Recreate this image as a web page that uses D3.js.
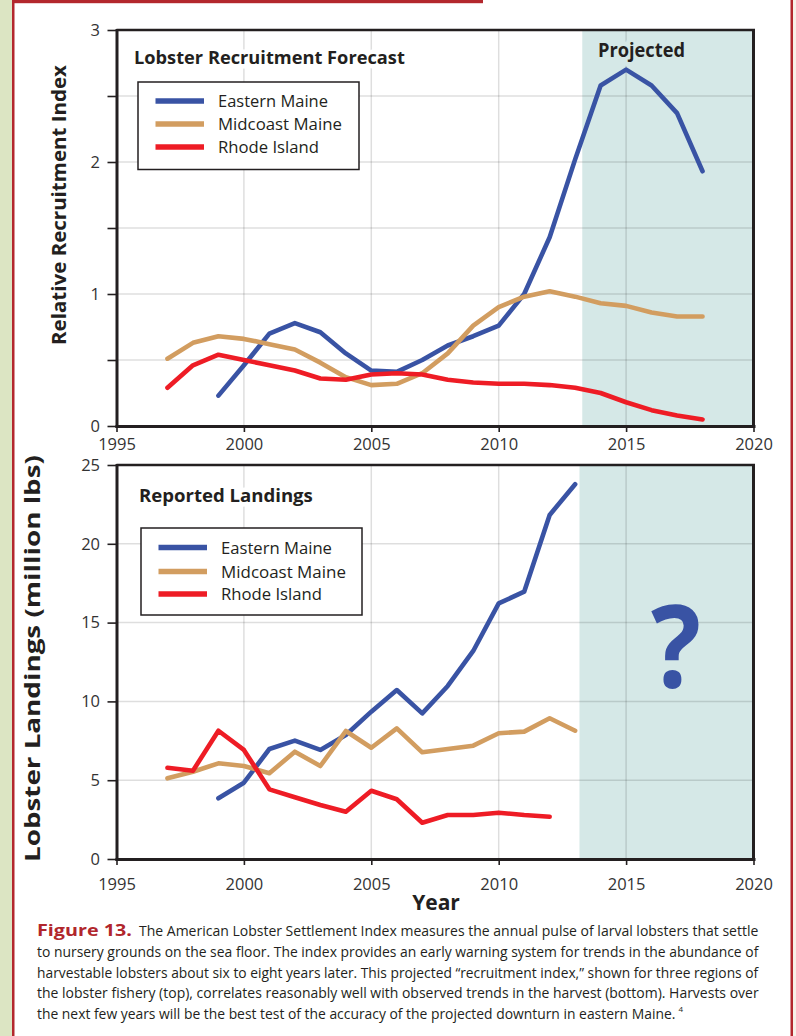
<!DOCTYPE html>
<html><head><meta charset="utf-8">
<script src="https://cdn.jsdelivr.net/npm/d3@7"></script>
<style>
html,body{margin:0;padding:0;background:#fff;}
svg{display:block;}
</style></head>
<body>
<svg id="chart" width="796" height="1036"></svg>
<script>
// ---------- DATA ----------
const seriesNames = ["Eastern Maine", "Midcoast Maine", "Rhode Island"];
const seriesColors = ["#3953a4", "#d29d60", "#ee1c25"];

const xTickYears = [1995, 2000, 2005, 2010, 2015, 2020];

// Top panel: relative recruitment index
const recruitYearsEastern = [1999,2000,2001,2002,2003,2004,2005,2006,2007,2008,2009,2010,2011,2012,2013,2014,2015,2016,2017,2018];
const recruitEastern = [0.23,0.46,0.70,0.78,0.71,0.55,0.42,0.41,0.50,0.61,0.68,0.76,1.00,1.43,2.02,2.58,2.70,2.58,2.37,1.93];
const recruitYears = [1997,1998,1999,2000,2001,2002,2003,2004,2005,2006,2007,2008,2009,2010,2011,2012,2013,2014,2015,2016,2017,2018];
const recruitMidcoast = [0.51,0.63,0.68,0.66,0.62,0.58,0.48,0.37,0.31,0.32,0.40,0.55,0.76,0.90,0.98,1.02,0.98,0.93,0.91,0.86,0.83,0.83];
const recruitRhode = [0.29,0.46,0.54,0.50,0.46,0.42,0.36,0.35,0.39,0.40,0.39,0.35,0.33,0.32,0.32,0.31,0.29,0.25,0.18,0.12,0.08,0.05];
const recruitYTicks = [0, 0.5, 1, 1.5, 2, 2.5, 3];
const recruitProjectedStart = 2013.28;

// Bottom panel: reported landings (million lbs)
const landYearsEastern = [1999,2000,2001,2002,2003,2004,2005,2006,2007,2008,2009,2010,2011,2012,2013];
const landEastern = [3.85,4.84,6.98,7.51,6.92,7.87,9.35,10.72,9.24,10.98,13.2,16.22,16.96,21.83,23.78];
const landYearsMidcoast = [1997,1998,1999,2000,2001,2002,2003,2004,2005,2006,2007,2008,2009,2010,2011,2012,2013];
const landMidcoast = [5.12,5.54,6.07,5.90,5.44,6.81,5.90,8.12,7.06,8.29,6.77,6.98,7.19,7.98,8.08,8.93,8.14];
const landYearsRhode = [1997,1998,1999,2000,2001,2002,2003,2004,2005,2006,2007,2008,2009,2010,2011,2012];
const landRhode = [5.79,5.60,8.14,6.92,4.42,3.92,3.43,3.00,4.33,3.79,2.30,2.79,2.79,2.94,2.79,2.68];
const landYTicks = [0, 5, 10, 15, 20, 25];
const landProjectedStart = 2013.17;

const captionFirst = "The American Lobster Settlement Index measures the annual pulse of larval lobsters that settle";
const captionLines = [
  "to nursery grounds on the sea floor. The index provides an early warning system for trends in the abundance of",
  "harvestable lobsters about six to eight years later. This projected \u201crecruitment index,\u201d shown for three regions of",
  "the lobster fishery (top), correlates reasonably well with observed trends in the harvest (bottom). Harvests over",
  "the next few years will be the best test of the accuracy of the projected downturn in eastern Maine."
];

// ---------- DRAW ----------
const svg = d3.select("#chart");
const FONT = "'Open Sans', 'Noto Sans', sans-serif";
const INK = "#231f20";

// squeeze a text horizontally to a target width (keeps it real text, bbox correct)
function fitText(sel, x, y, target) {
  sel.attr("x", 0).attr("y", 0);
  const w = sel.node().getComputedTextLength();
  sel.attr("transform", `translate(${x},${y}) scale(${target / w},1)`);
  return sel;
}

// page decoration
svg.append("rect").attr("x",0).attr("y",0).attr("width",12).attr("height",1036).attr("fill","#dce5c3");
svg.append("rect").attr("x",12).attr("y",0).attr("width",2.5).attr("height",1036).attr("fill","#b3272d");
svg.append("rect").attr("x",12).attr("y",0).attr("width",471).attr("height",3.2).attr("fill","#b3272d");
svg.append("rect").attr("x",790.5).attr("y",0).attr("width",2.5).attr("height",1036).attr("fill","#b3272d");
svg.append("rect").attr("x",793).attr("y",0).attr("width",3).attr("height",1036).attr("fill","#f6f2e8");

function drawPanel(cfg) {
  const g = svg.append("g");
  const x = d3.scaleLinear().domain([1995, 2020]).range([116.5, 753.5]);
  const y = d3.scaleLinear().domain(cfg.yDomain).range(cfg.yRange);
  const top = y(cfg.yDomain[1]), bottom = y(cfg.yDomain[0]);

  // projected shading
  g.append("rect")
    .attr("x", x(cfg.projStart)).attr("y", top)
    .attr("width", x(2020) - x(cfg.projStart)).attr("height", bottom - top)
    .attr("fill", "#d5e8e7");

  // grid
  const grid = g.append("g").attr("stroke", "#000").attr("stroke-opacity", 0.13).attr("stroke-width", 1.5);
  grid.selectAll("line.h").data(cfg.yTicks.filter(v => v > cfg.yDomain[0] && v < cfg.yDomain[1]))
    .join("line").attr("class","h")
    .attr("x1", x(1995)).attr("x2", x(2020)).attr("y1", d => y(d)).attr("y2", d => y(d));
  grid.selectAll("line.v").data(xTickYears.filter(v => v > 1995 && v < 2020))
    .join("line").attr("class","v")
    .attr("y1", top).attr("y2", bottom).attr("x1", d => x(d)).attr("x2", d => x(d));

  // panel title with halo
  fitText(g.append("text")
    .attr("font-family", FONT).attr("font-weight", 700).attr("font-size", 18.5)
    .attr("fill", INK).attr("stroke", "#fff").attr("stroke-width", 9).attr("paint-order", "stroke")
    .text(cfg.title.text), cfg.title.x, cfg.title.y, cfg.title.len);

  if (cfg.extra) cfg.extra(g, x, y);

  // axes
  const ya = g.append("g").attr("transform", `translate(${x(1995)},0)`)
    .call(d3.axisLeft(y).tickValues(cfg.yTicks).tickSize(9).tickSizeOuter(0).tickPadding(7.5)
      .tickFormat(d => Number.isInteger(d) ? d : ""));
  const xa = g.append("g").attr("transform", `translate(0,${bottom})`)
    .call(d3.axisBottom(x).tickValues(xTickYears).tickSize(6).tickSizeOuter(0).tickFormat(d3.format("d")));
  [ya, xa].forEach(a => {
    a.select(".domain").attr("stroke", INK).attr("stroke-width", 3).attr("stroke-linecap", "square");
    a.selectAll(".tick line").attr("stroke", INK).attr("stroke-width", 1.6);
    a.selectAll("text").attr("font-family", FONT).attr("font-size", 16.5).attr("fill", "#333");
  });
  xa.selectAll("text").attr("dy", 0).attr("y", cfg.xLabelY);

  // frame top & right
  g.append("line").attr("x1", x(1995)).attr("x2", x(2020) + 1.5).attr("y1", top).attr("y2", top)
    .attr("stroke", INK).attr("stroke-width", 2.6);
  g.append("line").attr("x1", x(2020)).attr("x2", x(2020)).attr("y1", top).attr("y2", bottom)
    .attr("stroke", INK).attr("stroke-width", 3);

  // series
  const line = d3.line().x(d => x(d[0])).y(d => y(d[1]));
  cfg.series.forEach((s, i) => {
    g.append("path").datum(d3.zip(s.years, s.values))
      .attr("d", line).attr("fill", "none")
      .attr("stroke", seriesColors[i]).attr("stroke-width", 4.6)
      .attr("stroke-linejoin", "round").attr("stroke-linecap", "round");
  });

  // legend
  const L = cfg.legend;
  g.append("rect").attr("x", L.x).attr("y", L.y).attr("width", L.w).attr("height", L.h)
    .attr("fill", "#fff").attr("stroke", INK).attr("stroke-width", 1.5);
  seriesNames.forEach((name, i) => {
    g.append("line").attr("x1", L.x + 17.5).attr("x2", L.x + 66).attr("y1", L.rows[i]).attr("y2", L.rows[i])
      .attr("stroke", seriesColors[i]).attr("stroke-width", 5.5);
    fitText(g.append("text")
      .attr("font-family", FONT).attr("font-size", 17).attr("fill", INK)
      .text(name), L.x + 80, L.rows[i] + 6, L.lens[i]);
  });
  return {x, y};
}

// top panel
drawPanel({
  yDomain: [0, 3], yRange: [426, 30], yTicks: recruitYTicks, projStart: recruitProjectedStart,
  xLabelY: 23.5,
  title: {text: "Lobster Recruitment Forecast", x: 134, y: 64, len: 271},
  series: [
    {years: recruitYearsEastern, values: recruitEastern},
    {years: recruitYears, values: recruitMidcoast},
    {years: recruitYears, values: recruitRhode}
  ],
  legend: {x: 138, y: 82, w: 221, h: 87.5, rows: [101, 124, 147], lens: [110, 124, 101]},
  extra: (g) => {
    fitText(g.append("text")
      .attr("font-family", FONT).attr("font-weight", 700).attr("font-size", 19.5)
      .attr("fill", INK).attr("stroke", "#d5e8e7").attr("stroke-width", 9).attr("paint-order", "stroke")
      .text("Projected"), 598, 57, 87);
  }
});

// bottom panel
drawPanel({
  yDomain: [0, 25], yRange: [859, 465], yTicks: landYTicks, projStart: landProjectedStart,
  xLabelY: 30.5,
  title: {text: "Reported Landings", x: 139, y: 502, len: 174},
  series: [
    {years: landYearsEastern, values: landEastern},
    {years: landYearsMidcoast, values: landMidcoast},
    {years: landYearsRhode, values: landRhode}
  ],
  legend: {x: 141, y: 528, w: 221, h: 87, rows: [547.5, 571.5, 594], lens: [111, 125, 101]},
  extra: (g) => {
    fitText(g.append("text")
      .attr("font-family", FONT).attr("font-weight", 700).attr("font-size", 115)
      .attr("fill", "#3953a4")
      .text("?"), 651, 687, 50);
  }
});

// axis titles
const t1 = svg.append("text").attr("text-anchor", "middle")
  .attr("font-family", FONT).attr("font-weight", 700).attr("font-size", 20).attr("fill", INK)
  .text("Relative Recruitment Index");
{ const w = t1.node().getComputedTextLength();
  t1.attr("transform", `translate(66,205) rotate(-90) scale(${280 / w},1)`); }
const t2 = svg.append("text").attr("text-anchor", "middle")
  .attr("font-family", FONT).attr("font-weight", 700).attr("font-size", 20.5).attr("fill", INK)
  .text("Lobster Landings (million lbs)");
{ const w = t2.node().getComputedTextLength();
  t2.attr("transform", `translate(40,658.5) rotate(-90) scale(${407 / w},1)`); }
svg.append("text").attr("x", 436).attr("y", 910).attr("text-anchor", "middle")
  .attr("font-family", FONT).attr("font-weight", 700).attr("font-size", 21).attr("fill", INK)
  .text("Year");

// caption
const CAP = "'Liberation Sans Narrow', 'Open Sans', sans-serif";
fitText(svg.append("text")
  .attr("font-family", FONT).attr("font-weight", 700).attr("font-size", 15.5).attr("fill", "#b1262c")
  .text("Figure 13."), 37, 936, 95);
fitText(svg.append("text")
  .attr("font-family", CAP).attr("font-size", 15).attr("fill", INK)
  .text(captionFirst), 139, 936, 620);
const capLens = [722, 722, 722, 639];
captionLines.forEach((t, i) => {
  fitText(svg.append("text")
    .attr("font-family", CAP).attr("font-size", 15).attr("fill", INK)
    .text(t), 37, 936 + 20.8 * (i + 1), capLens[i]);
});
svg.append("text").attr("x", 678.5).attr("y", 936 + 20.8 * 4 - 7)
  .attr("font-family", CAP).attr("font-size", 8).attr("fill", INK).text("4");
</script>
</body></html>
